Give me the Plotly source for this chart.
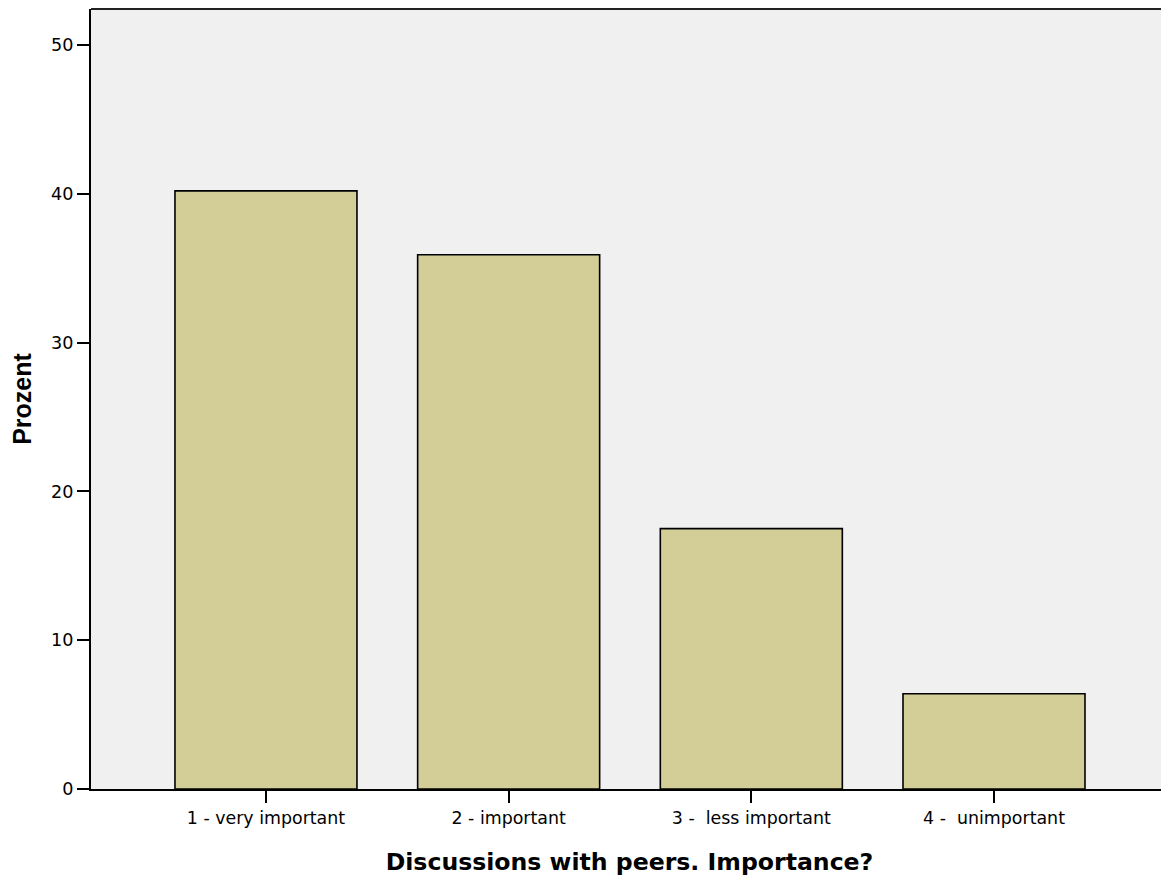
import plotly.graph_objects as go

categories = ["1 - very important", "2 - important", "3 -  less important", "4 -  unimportant"]
percent = [40.2, 35.9, 17.5, 6.4]
y_ticks = [0, 10, 20, 30, 40, 50]

x_pos = list(range(len(categories)))

fig = go.Figure()
fig.add_trace(go.Bar(
    x=x_pos, y=percent, width=0.75,
    marker=dict(color="#D3CE98", line=dict(color="black", width=1.6)),
    hoverinfo="skip",
))

wide_font = "DejaVu Sans, Verdana, sans-serif"
arial = "Liberation Sans, Arial, sans-serif"
fig.update_layout(
    width=1161, height=876,
    margin=dict(l=83, r=1, t=1, b=95),
    paper_bgcolor="white",
    plot_bgcolor="#F0F0F0",
    showlegend=False,
    font=dict(family=wide_font, size=17.4, color="black"),
    xaxis=dict(
        tickmode="array", tickvals=x_pos, ticktext=[c.replace(" ", "\u00a0") for c in categories],
        range=[-0.721, 3.717],
        showline=True, linecolor="black", linewidth=2,
        ticks="outside", ticklen=12, tickwidth=2, tickcolor="black",
        tickfont=dict(family=wide_font, size=17.4),
        showgrid=False, zeroline=False,
        title=dict(text="<b>Discussions with peers. Importance?</b>",
                   font=dict(family=wide_font, size=23.6), standoff=27),
    ),
    yaxis=dict(
        tickmode="array", tickvals=y_ticks,
        range=[0, 52.42],
        showline=True, linecolor="black", linewidth=2,
        ticks="outside", ticklen=12, tickwidth=2, tickcolor="black",
        tickfont=dict(family=wide_font, size=17.6),
        showgrid=False, zeroline=False,
        title=dict(text="<b>Prozent</b>", font=dict(family=arial, size=25), standoff=14),
    ),
)
fig.add_shape(type="line", xref="paper", yref="paper", x0=0, x1=1, y0=1, y1=1,
              line=dict(color="#222222", width=2))
fig.add_shape(type="line", xref="paper", yref="paper", x0=1, x1=1, y0=0, y1=1,
              line=dict(color="#888888", width=1))

fig.write_html("out.html")
